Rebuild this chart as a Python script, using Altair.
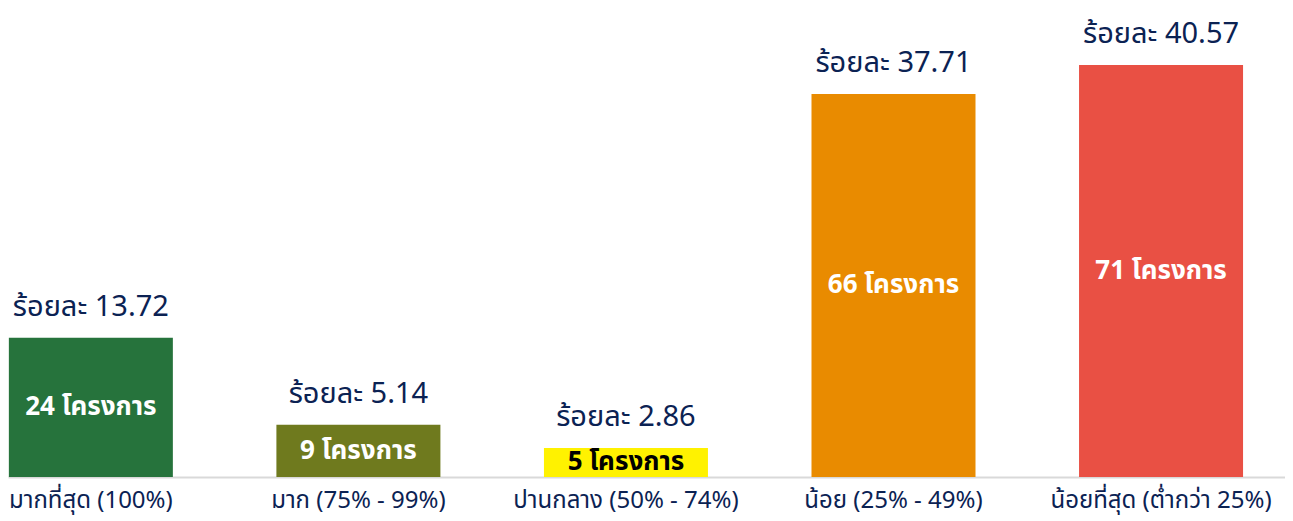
import altair as alt
import pandas as pd

categories = ["มากที่สุด (100%)", "มาก (75% - 99%)", "ปานกลาง (50% - 74%)",
              "น้อย (25% - 49%)", "น้อยที่สุด (ต่ำกว่า 25%)"]
projects = [24, 9, 5, 66, 71]
percents = ["13.72", "5.14", "2.86", "37.71", "40.57"]
colors = ["#26733c", "#6f7a1e", "#fff200", "#e98b00", "#e95044"]
inner_text_colors = ["#ffffff", "#ffffff", "#000000", "#ffffff", "#ffffff"]

df = pd.DataFrame({
    "cat": categories,
    "n": projects,
    "pct": percents,
    "color": colors,
    "tcolor": inner_text_colors,
})
df["top_label"] = "ร้อยละ " + df["pct"]
df["inner_label"] = df["n"].astype(str) + " โครงการ"

FONT = "Noto Sans Thai, Noto Sans, Open Sans, sans-serif"
NAVY = "#0b2253"

x = alt.X("cat:N", sort=categories, title=None,
          scale=alt.Scale(paddingInner=0.387, paddingOuter=0.08, align=0.02),
          axis=alt.Axis(labelAngle=0, labelFontSize=24, labelColor=NAVY, labelFont=FONT,
                        ticks=False, domainColor="#d9d9d9", domainWidth=2,
                        labelPadding=11, labelLimit=0))
y = alt.Y("n:Q", scale=alt.Scale(domain=[0, 80.8], nice=False), axis=None, title=None)

base = alt.Chart(df)

bars = base.mark_bar().encode(
    x=x, y=y,
    color=alt.Color("color:N", scale=None),
)

top = base.mark_text(baseline="bottom", dy=-16, fontSize=29, font=FONT, color=NAVY).encode(
    x=x, y=y, text="top_label:N"
)

inner = base.transform_calculate(mid="datum.n / 2").mark_text(
    baseline="middle", fontSize=26, fontWeight="bold", font=FONT
).encode(
    x=x,
    y=alt.Y("mid:Q", scale=alt.Scale(domain=[0, 80.8], nice=False), axis=None, title=None),
    text="inner_label:N",
    color=alt.Color("tcolor:N", scale=None),
)

chart = alt.layer(bars, top, inner).properties(
    width=1277, height=469,
    padding={"left": 0, "top": 0, "right": 0, "bottom": 40},
    autosize=alt.AutoSizeParams(type="none"),
    background="white",
).configure_view(strokeWidth=0, stroke=None)

chart.save("out.html", embed_options={"renderer": "svg", "actions": False})
